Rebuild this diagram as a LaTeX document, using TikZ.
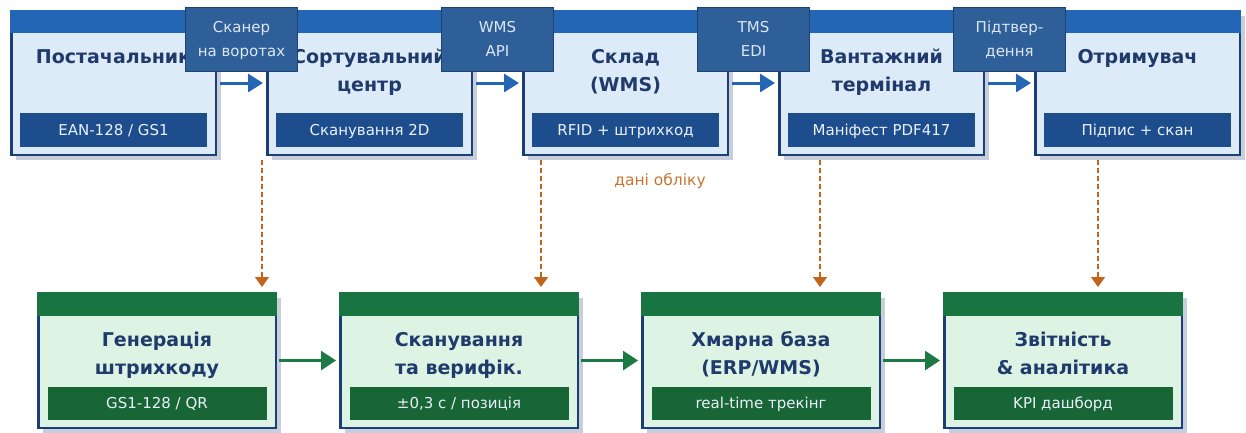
\documentclass[tikz,border=0pt]{standalone}
\usepackage{fontspec}
\setmainfont{DejaVu Sans}
\usetikzlibrary{arrows.meta,shadows}

\definecolor{hdrblue}{HTML}{2266B5}
\definecolor{bodyblue}{HTML}{DDEAF8}
\definecolor{navy}{HTML}{1C3E78}
\definecolor{subblue}{HTML}{1D4D8C}
\definecolor{tagblue}{HTML}{2F5F98}
\definecolor{tagedge}{HTML}{1F4470}
\definecolor{tagtxt}{HTML}{DCE7F3}
\definecolor{subtxt}{HTML}{EAF1FA}
\definecolor{titlenavy}{HTML}{1F3A6B}
\definecolor{shade}{HTML}{C8CFDB}
\definecolor{hdrgreen}{HTML}{187440}
\definecolor{bodygreen}{HTML}{DDF3E4}
\definecolor{subgreen}{HTML}{186536}
\definecolor{arrowgreen}{HTML}{1E7A45}
\definecolor{feedorange}{HTML}{C0651A}
\definecolor{feedtxt}{HTML}{C8752F}

\begin{document}
\begin{tikzpicture}[x=1pt,y=-1pt,
  boxshadow/.style={drop shadow={shadow xshift=5pt,shadow yshift=-5pt,fill=shade,opacity=1}},
  stage/.style={draw=navy,line width=2.5pt,fill=bodyblue,inner sep=0pt,
    minimum width=204.5pt,minimum height=143.5pt,boxshadow},
  result/.style={draw=navy,line width=2.5pt,fill=bodygreen,inner sep=0pt,
    minimum width=237.5pt,minimum height=134.5pt,boxshadow},
  stagesub/.style={fill=subblue,text=subtxt,inner sep=0pt,minimum width=187pt,
    minimum height=34pt,text height=12pt,text depth=2pt,font=\fontsize{15}{18}\selectfont},
  resultsub/.style={fill=subgreen,text=subtxt,inner sep=0pt,minimum width=219pt,
    minimum height=33pt,text height=12pt,text depth=2pt,font=\fontsize{15}{18}\selectfont},
  boxtitle/.style={anchor=north,align=center,inner sep=0pt,text=titlenavy,
    font=\fontsize{19}{28}\selectfont\bfseries},
  tag/.style={draw=tagedge,line width=1pt,fill=tagblue,inner sep=0pt,
    minimum width=112pt,minimum height=64pt},
  tagtext/.style={anchor=north,align=center,inner sep=0pt,text=tagtxt,
    font=\fontsize{15}{24}\selectfont},
  flowblue/.style={draw=hdrblue,line width=3pt,shorten <=3pt,shorten >=3pt,
    -{Triangle[length=15pt,width=18pt]}},
  flowgreen/.style={draw=arrowgreen,line width=3pt,shorten <=2pt,shorten >=3pt,
    -{Triangle[length=15pt,width=19pt]}},
  feed/.style={draw=feedorange,line width=1.5pt,dash pattern=on 5pt off 3pt,
    shorten >=5pt,-{Triangle[length=10pt,width=14pt]}}]

\useasboundingbox (0,0) rectangle (1246,432);

% upper chain: physical stages
\foreach \i/\cx/\ttl/\sub in {
  1/113.5/{Постачальник}/{EAN-128 / GS1},
  2/369.5/{Сортувальний\\центр}/{Сканування 2D},
  3/625.5/{Склад\\(WMS)}/{RFID + штрихкод},
  4/881.5/{Вантажний\\термінал}/{Маніфест PDF417},
  5/1137.5/{Отримувач}/{Підпис + скан}}{
  \node[stage] (s\i) at (\cx,83) {};
  \fill[hdrblue] (s\i.north west) rectangle ([yshift=-23pt]s\i.north east);
  \node[stagesub] (s\i sub) at (\cx,130) {\sub};
  \node[boxtitle] (s\i title) at (\cx,43) {\rule{0pt}{20pt}\ttl};
}

% lower chain: data processing
\foreach \i/\cx/\ttl/\sub in {
  1/157/{Генерація\\штрихкоду}/{GS1-128 / QR},
  2/459/{Сканування\\та верифік.}/{±0,3 с / позиція},
  3/761/{Хмарна база\\(ERP/WMS)}/{real-time трекінг},
  4/1063/{Звітність\\\& аналітика}/{KPI дашборд}}{
  \node[result] (g\i) at (\cx,360.5) {};
  \fill[hdrgreen] (g\i.north west) rectangle ([yshift=-24pt]g\i.north east);
  \node[resultsub] (g\i sub) at (\cx,403.5) {\sub};
  \node[boxtitle] (g\i title) at (\cx,326) {\rule{0pt}{20pt}\ttl};
}

% flow between stages
\draw[flowblue] (s1.east) -- (s2.west);
\draw[flowblue] (s2.east) -- (s3.west);
\draw[flowblue] (s3.east) -- (s4.west);
\draw[flowblue] (s4.east) -- (s5.west);

\draw[flowgreen] (g1.east) -- (g2.west);
\draw[flowgreen] (g2.east) -- (g3.west);
\draw[flowgreen] (g3.east) -- (g4.west);

% accounting data feeds
\coordinate (d1) at (262,160);
\coordinate (d2) at (541,160);
\coordinate (d3) at (820,160);
\coordinate (d4) at (1098,160);
\draw[feed] (d1) -- (d1 |- g1.north);
\draw[feed] (d2) -- (d2 |- g2.north);
\draw[feed] (d3) -- (d3 |- g3.north);
\draw[feed] (d4) -- (d4 |- g4.north);
\node[anchor=base,inner sep=0pt,text=feedtxt,font=\fontsize{15.5}{18}\selectfont]
  (feedlabel) at (660,185) {дані обліку};

% interface tags between stages
\foreach \j/\cx/\txt in {
  1/241.5/{Сканер\\на воротах},
  2/497.5/{WMS\\API},
  3/753.5/{TMS\\EDI},
  4/1009.5/{Підтвер-\\дення}}{
  \node[tag] (k\j) at (\cx,39.5) {};
  \node[tagtext] (k\j text) at (\cx,16) {\rule{0pt}{16pt}\txt};
}
\end{tikzpicture}
\end{document}
